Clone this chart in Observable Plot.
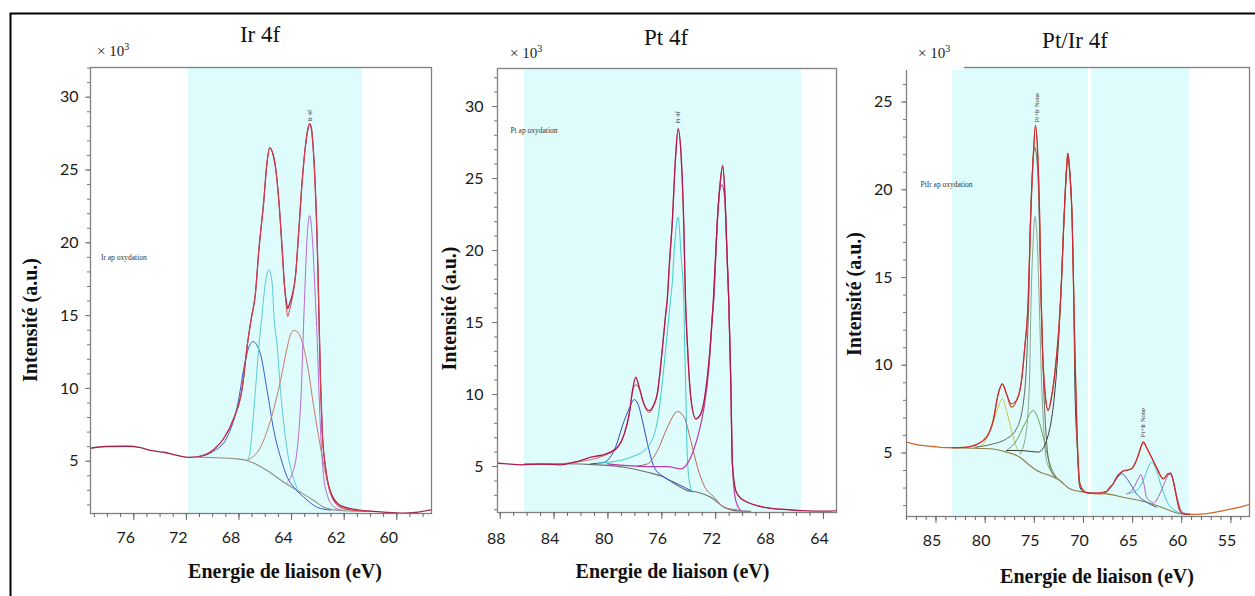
<!DOCTYPE html>
<html>
<head>
<meta charset="utf-8">
<script src="https://cdn.jsdelivr.net/npm/d3@7"></script>
<script src="https://cdn.jsdelivr.net/npm/@observablehq/plot@0.6"></script>
<style>
html, body { margin: 0; padding: 0; background: #fff; }
#fig { position: relative; width: 1255px; height: 596px; overflow: hidden; background: #fff; }
#fig > svg { position: absolute; }
</style>
</head>
<body>
<div id="fig"></div>
<script>
// ---------------- texts ----------------
const panelTitles = ["Ir 4f", "Pt 4f", "Pt/Ir 4f"];
const yAxisTitle = "Intensité (a.u.)";
const xAxisTitle = "Energie de liaison (eV)";
const scaleNote = "× 10";
const scaleExp = "3";

// ---------------- ticks ----------------
const irXTicks = [76, 72, 68, 64, 60, 56];
const irXTickLabels = ["76", "72", "68", "64", "62", "60"];
const ptXTicks = [88, 84, 80, 76, 72, 68, 64];
const ptXTickLabels = ["88", "84", "80", "76", "72", "68", "64"];
const ptirXTicks = [85, 80, 75, 70, 65, 60, 55];
const ptirXTickLabels = ["85", "80", "75", "70", "65", "60", "55"];
const irYTicks = [5, 10, 15, 20, 25, 30];
const ptYTicks = [5, 10, 15, 20, 25, 30];
const ptirYTicks = [5, 10, 15, 20, 25];

// ---------------- shaded fit regions (eV) ----------------
const irBands = [[71.84, 58.61]];
const ptBands = [[86.20, 65.63]];
const ptirBands = [[83.32, 69.49], [69.18, 59.21]];

// ---------------- annotations ----------------
const irNotes = [{x: 78.5, y: 19.0, text: "Ir ap oxydation"}];
const ptNotes = [{x: 87.24, y: 28.33, text: "Pt ap oxydation"}];
const ptirNotes = [{x: 86.58, y: 20.3, text: "PtIr ap oxydation"}];
const irPeakLabels = [{x: 62.62, y: 28.35, text: "Ir 4f"}];
const ptPeakLabels = [{x: 74.82, y: 28.8, text: "Pt 4f"}];
const ptirPeakLabels = [{x: 74.78, y: 23.85, text: "Pt+Ir None"}, {x: 63.99, y: 5.9, text: "Pt+Ir None"}];

// ---------------- Ir 4f series [eV, intensity x1000] ----------------
const irRaw = [[79.29,5.89],[78.15,6.01],[76.48,6.03],[75.49,5.94],[74.73,5.74],[73.59,5.60],[72.98,5.46],[71.84,5.27],[71.06,5.32],[69.92,5.80],[69.16,6.56],[68.40,7.93],[67.76,9.99],[67.33,13.22],[67.09,14.66],[66.75,16.52],[66.49,19.47],[66.11,22.91],[65.89,25.31],[65.66,26.52],[65.45,26.20],[65.22,25.17],[64.97,22.91],[64.71,19.47],[64.54,17.07],[64.39,15.90],[64.29,15.49],[64.16,15.80],[63.95,16.40],[63.70,17.75],[63.45,20.84],[63.19,24.28],[62.94,26.68],[62.75,27.85],[62.62,28.17],[62.49,27.85],[62.37,26.68],[62.22,24.28],[62.07,20.64],[61.99,17.89],[61.92,15.14],[61.80,10.54],[61.67,7.11],[61.42,4.59],[61.04,2.90],[60.28,1.95],[59.01,1.66],[58.00,1.57],[57.01,1.50],[55.49,1.43],[54.58,1.48],[53.44,1.66]];
const irEnvelope = [[71.06,5.32],[69.92,5.80],[69.16,6.56],[68.40,7.93],[67.76,9.99],[67.33,13.22],[67.09,14.66],[66.75,16.52],[66.49,19.47],[66.11,22.91],[65.89,25.31],[65.66,26.52],[65.45,26.20],[65.22,25.17],[64.97,22.91],[64.71,19.47],[64.54,17.07],[64.39,15.49],[64.29,14.94],[64.16,15.35],[63.95,16.17],[63.70,17.75],[63.45,20.84],[63.19,24.28],[62.94,26.68],[62.75,27.85],[62.62,28.17],[62.49,27.85],[62.37,26.68],[62.22,24.28],[62.07,20.64],[61.99,17.89],[61.92,15.14],[61.80,10.54],[61.67,7.11],[61.42,4.59],[61.04,2.78],[60.28,1.84],[59.01,1.61],[58.00,1.57]];
const irBackground = [[71.06,5.27],[68.14,5.16],[67.38,5.05],[66.67,4.78],[65.86,4.36],[64.59,3.56],[63.32,2.87],[62.31,2.30],[61.55,1.84],[60.79,1.66],[59.52,1.58],[58.00,1.55]];
const irBlue = [[71.06,5.32],[69.92,5.69],[68.90,6.65],[68.14,8.71],[67.51,11.92],[67.20,12.95],[66.92,13.22],[66.67,13.02],[66.37,12.38],[65.86,9.86],[65.35,7.11],[64.84,5.27],[64.33,3.90],[63.83,3.21],[63.07,2.53],[62.05,1.84],[61.04,1.64]];
const irCyan = [[67.38,5.05],[67.18,5.51],[67.00,7.11],[66.75,9.86],[66.49,12.83],[66.24,15.12],[65.99,17.27],[65.72,18.15],[65.48,17.27],[65.35,15.12],[65.09,12.83],[64.84,9.86],[64.59,7.57],[64.29,5.51],[63.95,4.13],[63.57,3.12]];
const irBrown = [[67.38,5.05],[66.37,5.96],[65.60,7.80],[64.84,10.54],[64.33,12.83],[64.08,13.70],[63.83,13.98],[63.59,13.91],[63.32,13.52],[62.81,11.69],[62.31,8.71],[61.80,5.96],[61.29,3.67],[60.79,2.30],[60.03,1.73],[58.76,1.61]];
const irPurple = [[64.33,3.56],[63.95,4.13],[63.63,5.39],[63.44,7.11],[63.26,9.86],[63.13,13.29],[62.99,16.72],[62.83,20.16],[62.62,21.87],[62.41,20.16],[62.22,16.72],[62.05,13.29],[61.92,9.86],[61.76,6.42],[61.57,4.02],[61.27,2.64],[60.81,1.89],[60.28,1.65]];

// ---------------- Pt 4f series ----------------
const ptRaw = [[88.15,5.23],[87.24,5.17],[86.49,5.12],[85.01,5.17],[83.53,5.12],[82.51,5.30],[81.27,5.65],[80.03,5.92],[79.29,6.34],[78.79,7.27],[78.42,8.66],[78.18,10.28],[77.93,11.20],[77.68,10.51],[77.36,9.44],[76.94,8.89],[76.62,9.24],[76.32,10.14],[75.95,13.28],[75.71,15.60],[75.60,16.53],[75.43,19.17],[75.23,21.85],[74.98,26.48],[74.79,28.45],[74.56,26.48],[74.37,21.85],[74.24,16.53],[74.09,13.28],[73.85,9.81],[73.48,8.31],[73.11,8.66],[72.74,10.28],[72.41,13.28],[72.16,16.74],[71.89,21.85],[71.65,24.86],[71.48,25.90],[71.33,24.17],[71.15,19.53],[71.03,16.53],[70.88,10.97],[70.76,5.19],[70.51,3.33],[70.12,2.78],[69.89,2.64],[68.40,2.17],[66.43,1.99],[65.71,1.94],[63.46,1.90],[63.03,1.94]];
const ptEnvelope = [[86.20,5.17],[83.25,5.21],[82.04,5.35],[80.78,5.59],[80.03,5.87],[79.29,6.32],[78.79,7.22],[78.42,8.61],[78.18,10.14],[77.93,10.67],[77.68,10.42],[77.36,9.38],[76.94,8.75],[76.62,9.17],[76.32,10.14],[75.95,13.28],[75.71,15.60],[75.60,16.53],[75.43,19.17],[75.23,21.85],[74.98,26.48],[74.79,28.45],[74.56,26.48],[74.37,21.85],[74.24,16.53],[74.09,13.28],[73.85,9.81],[73.48,8.31],[73.11,8.66],[72.74,10.28],[72.41,13.28],[72.16,16.74],[71.89,21.85],[71.65,24.86],[71.48,25.90],[71.33,24.17],[71.15,19.53],[71.03,16.53],[70.88,10.97],[70.76,5.19],[70.51,3.33],[70.12,2.78],[69.89,2.64],[68.40,2.17],[66.43,1.99],[65.71,1.94]];
const ptBackground = [[86.20,5.17],[83.25,5.19],[80.78,5.12],[78.79,4.95],[77.06,4.60],[75.82,4.26],[74.83,3.68],[74.09,3.33],[73.35,3.22],[72.36,2.87],[71.37,2.17],[70.63,1.94],[69.40,1.90]];
const ptCyan = [[80.78,5.23],[79.54,5.35],[78.30,5.65],[77.06,6.34],[76.32,8.19],[75.95,10.97],[75.58,14.44],[75.36,16.53],[75.21,17.92],[75.11,19.53],[74.79,22.31],[74.56,19.53],[74.37,16.53],[74.30,13.28],[74.20,9.50],[74.13,6.34],[73.97,4.03],[73.72,3.22]];
const ptBlue = [[81.27,5.19],[80.28,5.30],[79.54,6.11],[78.79,8.19],[78.42,9.03],[78.05,9.65],[77.73,9.24],[77.44,8.19],[77.06,6.58],[76.57,4.95],[75.82,4.26],[74.83,3.80],[73.85,3.33]];
const ptBrown = [[77.81,5.05],[77.06,5.19],[76.32,6.11],[75.58,7.73],[74.83,8.82],[74.34,8.42],[73.85,6.81],[73.35,4.95],[72.86,3.68],[72.11,2.87],[71.37,2.17],[70.38,1.99]];
const ptMagenta = [[80.03,5.19],[77.06,5.00],[75.58,5.00],[74.59,4.84],[73.85,5.65],[73.35,7.03],[72.86,9.12],[72.48,12.13],[72.24,15.60],[72.14,16.53],[71.89,21.85],[71.70,24.17],[71.55,24.56],[71.33,23.70],[71.15,19.53],[71.03,16.53],[70.88,10.97],[70.76,5.19],[70.51,2.64],[70.14,1.94]];

// ---------------- Pt/Ir 4f series ----------------
const ptirRaw = [[88.03,5.62],[86.98,5.48],[85.28,5.37],[83.60,5.30],[81.90,5.33],[80.88,5.48],[79.86,5.90],[79.18,6.85],[78.67,8.37],[78.26,8.94],[77.83,8.37],[77.32,7.61],[76.81,7.99],[76.30,9.13],[75.97,11.03],[75.62,13.69],[75.39,18.06],[75.11,21.85],[74.88,23.66],[74.64,21.85],[74.44,18.06],[74.30,13.69],[74.17,11.03],[73.93,8.56],[73.59,7.42],[73.25,8.18],[72.81,10.08],[72.47,12.36],[72.23,14.83],[72.00,18.06],[71.75,20.91],[71.59,22.08],[71.39,20.91],[71.14,18.06],[70.98,13.69],[70.88,11.03],[70.71,7.23],[70.53,4.38],[70.37,3.25],[70.02,2.86],[69.52,2.71],[68.34,2.67],[67.65,2.81],[67.32,3.03],[66.97,3.25],[66.64,3.60],[66.30,3.83],[65.96,3.97],[65.52,4.03],[65.11,4.10],[64.75,4.40],[64.43,4.86],[64.14,5.37],[63.92,5.62],[63.52,5.24],[63.08,4.76],[62.50,4.10],[61.89,3.53],[61.38,3.81],[61.14,3.85],[60.87,3.43],[60.53,2.48],[60.19,1.72],[59.85,1.54],[58.83,1.50],[57.48,1.54],[55.78,1.72],[54.09,1.91],[53.08,2.07]];
const ptirEnvelope = [[83.32,5.30],[81.90,5.33],[80.88,5.48],[79.86,5.90],[79.18,6.85],[78.67,8.37],[78.26,8.94],[77.83,8.37],[77.35,7.80],[76.81,7.99],[76.30,9.13],[75.97,11.03],[75.62,13.69],[75.39,18.06],[75.11,21.85],[74.88,23.66],[74.64,21.85],[74.44,18.06],[74.30,13.69],[74.17,11.03],[73.93,8.56],[73.59,7.42],[73.25,8.18],[72.81,10.08],[72.47,12.36],[72.23,14.83],[72.00,18.06],[71.75,20.91],[71.59,22.00],[71.39,20.91],[71.14,18.06],[70.98,13.69],[70.88,11.03],[70.71,7.23],[70.53,4.38],[70.37,3.25],[70.02,2.86],[69.52,2.71],[69.01,2.71],[67.65,2.81],[67.32,3.03],[66.97,3.25],[66.64,3.60],[66.30,3.83],[65.96,3.97],[65.52,4.03],[65.11,4.10],[64.75,4.40],[64.43,4.86],[64.14,5.37],[63.92,5.62],[63.52,5.24],[63.08,4.76],[62.50,4.10],[61.89,3.53],[61.38,3.81],[61.14,3.85],[60.87,3.43],[60.53,2.48],[60.19,1.72],[59.85,1.54],[59.21,1.50]];
const ptirBackground = [[83.60,5.30],[79.53,5.24],[77.83,5.05],[76.47,4.76],[75.46,4.29],[74.44,3.91],[73.42,3.72],[72.40,3.43],[71.39,2.96],[70.37,2.81],[69.01,2.71],[67.65,2.67],[65.96,2.48],[64.27,2.29],[62.57,2.01],[61.21,1.72],[60.19,1.54],[59.21,1.50]];
const ptirYellow = [[80.88,5.31],[80.20,5.52],[79.35,6.47],[78.67,7.61],[78.26,8.09],[77.83,7.42],[77.32,6.28],[76.81,5.33],[76.30,4.95]];
const ptirGreen = [[77.83,5.14],[76.81,5.71],[75.97,6.66],[75.11,7.42],[74.44,6.66],[73.93,5.52],[73.42,4.38],[72.74,3.62],[72.06,3.25]];
const ptirGrayGreen = [[76.47,4.95],[75.97,5.71],[75.65,7.25],[75.49,9.13],[75.33,13.69],[75.11,17.11],[74.95,18.48],[74.70,17.11],[74.50,13.69],[74.27,9.13],[74.03,6.28],[73.76,4.57],[73.08,3.81],[72.40,3.47]];
const ptirDarkGray = [[81.05,5.33],[79.18,5.52],[77.83,5.81],[76.81,6.38],[76.13,7.80],[75.72,11.03],[75.52,14.83],[75.44,17.11],[75.21,20.91],[74.95,22.42],[74.64,20.91],[74.44,17.11],[74.30,13.69],[74.22,11.98],[74.03,8.56],[73.76,5.71],[73.42,4.23],[72.84,3.60]];
const ptirDark = [[77.83,5.14],[76.47,5.14],[75.39,5.09],[74.60,5.05],[74.06,5.31],[73.76,5.71],[73.42,6.40],[73.08,7.61],[72.81,9.13],[72.57,11.03],[72.33,13.69],[72.00,18.06],[71.75,20.91],[71.59,22.08],[71.39,21.10],[71.14,18.06],[70.98,13.69],[70.88,9.13],[70.63,5.33],[70.37,3.05],[70.02,2.81]];
const ptirBlue = [[67.99,2.67],[67.32,2.96],[66.64,3.53],[66.13,3.81],[65.45,3.43],[64.60,2.67],[63.59,2.20],[62.57,1.91]];
const ptirPurple = [[65.62,2.67],[64.94,2.96],[64.43,3.53],[64.16,3.77],[63.86,3.25],[63.59,2.48],[63.08,2.20],[62.90,2.14],[62.36,2.52],[61.86,3.15],[61.45,3.66],[61.21,3.81],[60.94,3.54],[60.64,2.86],[60.32,2.12],[60.02,1.67],[59.61,1.55]];
const ptirCyan = [[65.62,2.67],[64.60,2.86],[63.92,3.43],[63.41,4.19],[63.08,4.48],[62.57,4.00],[62.06,3.05],[61.38,2.11],[60.71,1.72],[60.02,1.57]];

// ---------------- panel configuration ----------------
const panels = [
  {
    frame: {left: 90, top: 67, width: 341, height: 446},
    xDomain: [79.29, 53.36], yDomain: [1.41, 32.04],
    xMinor: d3.range(54, 80), xTicks: irXTicks, xLabels: irXTickLabels, xLabelDx: -8, xLabelDy: 29,
    yMinor: d3.range(2, 33), yTicks: irYTicks, yLabelGap: 12,
    bands: irBands, notes: irNotes, peaks: irPeakLabels,
    series: [
      {data: irBackground, color: "#8e8e84", width: 1.1},
      {data: irBlue, color: "#3f5bc4", width: 1},
      {data: irCyan, color: "#5ccbd6", width: 1},
      {data: irBrown, color: "#c47a62", width: 1},
      {data: irPurple, color: "#b46ad0", width: 1},
      {data: irRaw, color: "#9e1f4e", width: 1.3},
      {data: irEnvelope, color: "#d9434c", width: 1}
    ]
  },
  {
    frame: {left: 497, top: 68, width: 339, height: 444},
    xDomain: [88.2, 63.03], yDomain: [1.81, 32.64],
    xMinor: d3.range(64, 89), xTicks: ptXTicks, xLabels: ptXTickLabels, xLabelDx: -4, xLabelDy: 31,
    yMinor: d3.range(2, 33), yTicks: ptYTicks, yLabelGap: 14,
    bands: ptBands, notes: ptNotes, peaks: ptPeakLabels,
    series: [
      {data: ptBackground, color: "#6e6e6e", width: 1.1},
      {data: ptBlue, color: "#3548c2", width: 1},
      {data: ptCyan, color: "#3fcaca", width: 1},
      {data: ptBrown, color: "#b8685a", width: 1},
      {data: ptMagenta, color: "#b43aa8", width: 1.2},
      {data: ptEnvelope, color: "#cf7a68", width: 1.1},
      {data: ptRaw, color: "#b3174f", width: 1.3}
    ]
  },
  {
    frame: {left: 906, top: 67, width: 343, height: 449},
    xDomain: [88.0, 53.11], yDomain: [1.38, 26.97],
    xMinor: d3.range(54, 89), xTicks: ptirXTicks, xLabels: ptirXTickLabels, xLabelDx: -4, xLabelDy: 29,
    yMinor: d3.range(2, 27), yTicks: ptirYTicks, yLabelGap: 14,
    bands: ptirBands, notes: ptirNotes, peaks: ptirPeakLabels,
    series: [
      {data: ptirBackground, color: "#8c7d45", width: 1.1},
      {data: ptirYellow, color: "#c9c34a", width: 1},
      {data: ptirGreen, color: "#63a64a", width: 1},
      {data: ptirGrayGreen, color: "#8da58d", width: 1},
      {data: ptirDarkGray, color: "#5f665f", width: 1},
      {data: ptirDark, color: "#3a3a3a", width: 1},
      {data: ptirBlue, color: "#4a58c6", width: 1},
      {data: ptirPurple, color: "#b05ab8", width: 1},
      {data: ptirCyan, color: "#4cc6d6", width: 1},
      {data: ptirRaw, color: "#d0682a", width: 1.3},
      {data: ptirEnvelope, color: "#c8283e", width: 1.1}
    ]
  }
];

const fig = document.getElementById("fig");
const M = {left: 50, right: 6, top: 6, bottom: 42};
const serif = "'Liberation Serif', 'Times New Roman', serif";
const sans = "Lato, 'Open Sans', sans-serif";

panels.forEach(p => {
  const marks = [
    Plot.rect(p.bands, {x1: d => d[0], x2: d => d[1], fill: "#defcfc"}),
    ...p.series.map(s => Plot.line(s.data, {x: d => d[0], y: d => d[1], stroke: s.color, strokeWidth: s.width, curve: "monotone-x", clip: true})),
    Plot.frame({stroke: "#808080", strokeWidth: 1.3}),
    Plot.axisX({ticks: p.xMinor, tickSize: 4, tickFormat: () => "", stroke: "#666", label: null}),
    Plot.axisX({ticks: p.xTicks, tickSize: 7, tickFormat: () => "", stroke: "#666", label: null}),
    Plot.text(p.xTicks.map((v, i) => ({v, t: p.xLabels[i]})), {x: "v", text: "t", frameAnchor: "bottom", lineAnchor: "bottom", dy: p.xLabelDy, dx: p.xLabelDx, fontSize: 16, fontFamily: sans, fill: "#1a1a1a"}),
    Plot.axisY({ticks: p.yMinor, tickSize: 3, tickFormat: () => "", stroke: "#777", label: null}),
    Plot.axisY({ticks: p.yTicks, tickSize: 5, tickFormat: () => "", stroke: "#777", label: null}),
    Plot.text(p.yTicks, {y: d => d, text: d => String(d), frameAnchor: "left", textAnchor: "end", lineAnchor: "middle", dx: -p.yLabelGap, fontSize: 16, fontFamily: sans, fill: "#1a1a1a"}),
    Plot.text(p.notes, {x: "x", y: "y", text: "text", textAnchor: "start", lineAnchor: "middle", fontSize: 7.5, fontFamily: serif, fill: "#333"}),
    Plot.text(p.peaks, {x: "x", y: "y", text: "text", rotate: -90, textAnchor: "start", lineAnchor: "middle", fontSize: 6.5, fontFamily: serif, fill: "#333"})
  ];
  const svg = Plot.plot({
    width: p.frame.width + M.left + M.right,
    height: p.frame.height + M.top + M.bottom,
    marginLeft: M.left, marginRight: M.right, marginTop: M.top, marginBottom: M.bottom,
    x: {domain: p.xDomain, label: null},
    y: {domain: p.yDomain, label: null},
    style: {background: "transparent", overflow: "visible", maxWidth: "none", fontFamily: sans},
    marks
  });
  svg.style.position = "absolute";
  svg.style.left = (p.frame.left - M.left) + "px";
  svg.style.top = (p.frame.top - M.top) + "px";
  fig.appendChild(svg);
});

// ---------------- overlay: titles and axis titles ----------------
const layout = [
  {title: [260, 42], note: [97, 56], ylab: [37, 320], xlab: [285, 578]},
  {title: [666, 45], note: [510, 58], ylab: [456, 308.5], xlab: [672.5, 578]},
  {title: [1075, 48], note: [918, 58], ylab: [861, 294], xlab: [1097, 583]}
];
const ov = d3.select("#fig").append("svg")
  .attr("width", 1255).attr("height", 596)
  .style("left", "0px").style("top", "0px");

// outer black frame (left & top visible)
ov.append("path").attr("d", "M10.5,596 V13.5 H1255")
  .attr("fill", "none").attr("stroke", "#000").attr("stroke-width", 2);
// gap in the top border of the third frame
ov.append("rect").attr("x", 903).attr("y", 63).attr("width", 61).attr("height", 7).attr("fill", "#fff");

layout.forEach((L, i) => {
  ov.append("text").attr("x", L.title[0]).attr("y", L.title[1])
    .attr("text-anchor", "middle").attr("font-family", serif).attr("font-size", 23).attr("fill", "#111")
    .text(panelTitles[i]);
  const n = ov.append("text").attr("x", L.note[0]).attr("y", L.note[1])
    .attr("font-family", serif).attr("font-size", 15).attr("fill", "#222");
  n.append("tspan").text(scaleNote);
  n.append("tspan").attr("dy", -6).attr("font-size", 10).text(scaleExp);
  ov.append("text").attr("transform", `translate(${L.ylab[0]},${L.ylab[1]}) rotate(-90)`)
    .attr("text-anchor", "middle").attr("font-family", serif).attr("font-weight", "bold")
    .attr("font-size", 20).attr("fill", "#111").text(yAxisTitle);
  ov.append("text").attr("x", L.xlab[0]).attr("y", L.xlab[1])
    .attr("text-anchor", "middle").attr("font-family", serif).attr("font-weight", "bold")
    .attr("font-size", 20).attr("fill", "#111").text(xAxisTitle);
});
</script>
</body>
</html>
